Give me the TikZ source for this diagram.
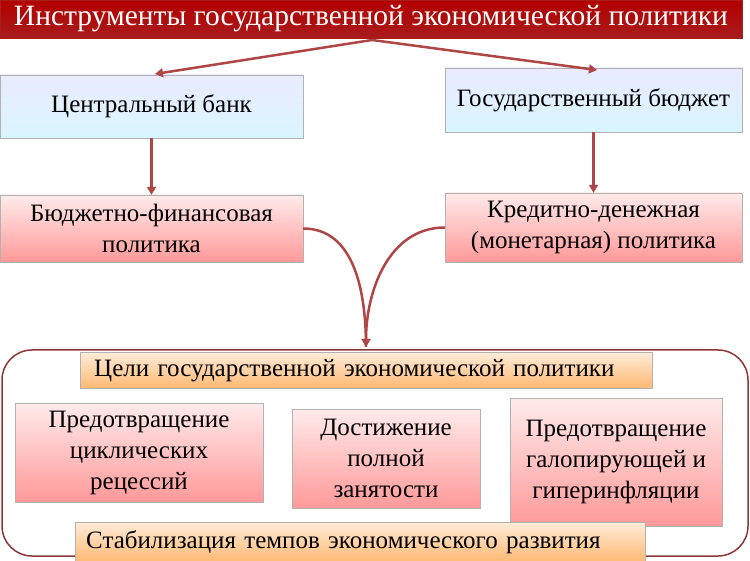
\documentclass[tikz,border=0pt]{standalone}
\usepackage{fontspec}
\setmainfont{Liberation Serif}
\usetikzlibrary{arrows.meta,positioning,calc}
\definecolor{darkred}{HTML}{A81C1C}
\definecolor{arrowred}{HTML}{B04545}
\tikzset{
  box/.style={draw=gray!60, inner sep=0pt, align=center, font=\fontsize{25}{31}\selectfont},
  bluebox/.style={box, top color=blue!8, bottom color=blue!25!cyan!15},
  pinkbox/.style={box, top color=red!8, bottom color=red!40},
  orangebar/.style={box, top color=orange!15, bottom color=orange!55, align=left, anchor=north west},
  link/.style={-{Triangle[length=8pt,width=9pt]}, arrowred, line width=2.5pt},
}
\begin{document}
\begin{tikzpicture}[x=1pt,y=-1pt]
\useasboundingbox (0,0) rectangle (750,561);
% tools
\node (title) [box, draw=darkred, top color=red!70!black, bottom color=darkred, text=white,
  minimum width=742, minimum height=38, font=\fontsize{29.5}{32}\selectfont] at (371,19)
  {Инструменты государственной экономической политики};
\node (bank) [bluebox, minimum width=303, minimum height=63] at (151.5,106.5) {Центральный банк};
\node (budget) [bluebox, minimum width=297, minimum height=64] at (593.5,100) {Государственный бюджет};
\node (fiscal) [pinkbox, minimum width=303, minimum height=67] at (151.5,228.5)
  {Бюджетно-финансовая\\политика};
\node (credit) [pinkbox, minimum width=297, minimum height=69] at (593.5,227.5)
  {Кредитно-денежная\\(монетарная) политика};
\coordinate (top) at (372,40);
\coordinate (meet) at (366,347);
\draw [link] (top) -- (155,74);
\draw [link] (top) -- (597,70);
\draw [link] (bank) -- (fiscal);
\draw [link] (budget) -- (credit);
\draw [arrowred, line width=2.5pt] (fiscal.east) to[out=0, in=90] (meet);
\draw [link] (credit.west) to[out=180, in=90] (meet);
% goals
\draw [arrowred!80!black, line width=1.5pt, rounded corners=30] (2,350) rectangle (748,556);
\node (goals) [orangebar, minimum width=572, minimum height=36, text width=560] at (80,352)
  {\hspace*{8pt}Цели государственной экономической политики};
\node (recess) [pinkbox, minimum width=248, minimum height=99] at (139,452.5)
  {Предотвращение\\циклических\\рецессий};
\node (employ) [pinkbox, minimum width=188, minimum height=99] at (386,458.5)
  {Достижение\\полной\\занятости};
\node (inflat) [pinkbox, minimum width=212, minimum height=128] at (616,462)
  {Предотвращение\\галопирующей и\\гиперинфляции};
\node (stable) [orangebar, minimum width=570, minimum height=40, text width=560] at (75,522)
  {\hspace*{6pt}Стабилизация темпов экономического развития};
\end{tikzpicture}
\end{document}
